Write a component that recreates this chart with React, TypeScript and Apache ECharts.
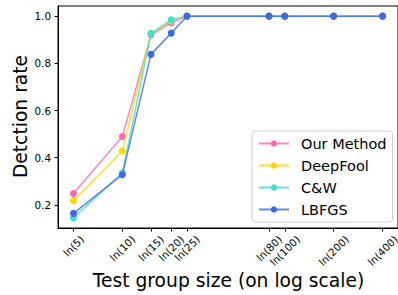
import { useEffect, useRef } from 'react';
import * as echarts from 'echarts';

const groupSizes = [5, 10, 15, 20, 25, 80, 100, 200, 400];
const xTickLabels = ['ln(5)', 'ln(10)', 'ln(15)', 'ln(20)', 'ln(25)', 'ln(80)', 'ln(100)', 'ln(200)', 'ln(400)'];
const yTicks = [0.2, 0.4, 0.6, 0.8, 1.0];

const seriesNames = ['Our Method', 'DeepFool', 'C&W', 'LBFGS'];
const ourMethod = [0.248, 0.49, 0.92, 0.972, 1.0, 1.0, 1.0, 1.0, 1.0];
const deepFool = [0.218, 0.428, 0.925, 0.98, 1.0, 1.0, 1.0, 1.0, 1.0];
const cw = [0.145, 0.336, 0.927, 0.985, 1.0, 1.0, 1.0, 1.0, 1.0];
const lbfgs = [0.164, 0.328, 0.838, 0.928, 1.0, 1.0, 1.0, 1.0, 1.0];
const colors = ['#ff69b4', '#ffd700', '#40e0d0', '#4169e1'];

const FONT = 'DejaVu Sans';
const TICK_FS = 10.4;
const X_MIN = 1.39;
const X_MAX = 6.21;
const Y_MIN = 0.102;
const Y_MAX = 1.043;

export default function App() {
  const ref = useRef<HTMLDivElement>(null);
  useEffect(() => {
    if (!ref.current) return;
    const chart = echarts.init(ref.current, null, { renderer: 'svg' });
    const allValues = [ourMethod, deepFool, cw, lbfgs];
    const option: any = {
      animation: false,
      backgroundColor: '#fff',
      grid: {
        left: 58,
        top: 6,
        width: 341.5,
        height: 222,
        show: true,
        borderColor: '#000',
        borderWidth: 1,
        backgroundColor: 'transparent',
      },
      legend: {
        orient: 'vertical',
        left: 252,
        top: 131,
        padding: [5, 6, 5, 6],
        itemWidth: 30,
        itemHeight: 8,
        itemGap: 7,
        borderColor: '#d0d0d0',
        borderWidth: 1,
        borderRadius: 3,
        backgroundColor: 'rgba(255,255,255,0.8)',
        data: seriesNames,
        textStyle: {
          fontFamily: FONT,
          fontSize: 14.5,
          color: '#000',
          padding: [0, 0, 0, 7],
        },
      },
      xAxis: {
        type: 'value',
        min: X_MIN,
        max: X_MAX,
        axisLine: { show: true, lineStyle: { color: '#000', width: 1 } },
        axisTick: {
          show: true,
          length: 3.5,
          lineStyle: { color: '#000', width: 1 },
          customValues: groupSizes.map((g) => Math.log(g)),
        },
        axisLabel: { show: false },
        splitLine: { show: false },
      },
      yAxis: {
        type: 'value',
        min: Y_MIN,
        max: Y_MAX,
        axisLine: { show: true, lineStyle: { color: '#000', width: 1 } },
        axisTick: {
          show: true,
          length: 3.5,
          lineStyle: { color: '#000', width: 1 },
          customValues: yTicks,
        },
        axisLabel: {
          show: true,
          customValues: yTicks,
          margin: 7,
          fontFamily: FONT,
          fontSize: TICK_FS,
          color: '#000',
          formatter: (v: number) => v.toFixed(1),
        },
        splitLine: { show: false },
      },
      series: seriesNames.map((name, si) => ({
        name,
        type: 'line',
        data: groupSizes.map((g, i) => [Math.log(g), allValues[si][i]]),
        symbol: 'circle',
        symbolSize: 7,
        showSymbol: true,
        itemStyle: { color: colors[si], opacity: 1 },
        lineStyle: { color: colors[si], width: 1.5, opacity: 0.8 },
        z: 2 + si,
      })),
    };
    chart.setOption(option);

    const axisY = chart.convertToPixel({ yAxisIndex: 0 }, Y_MIN) as number;
    const canvas = document.createElement('canvas');
    const ctx = canvas.getContext('2d')!;
    ctx.font = `${TICK_FS}px "${FONT}"`;
    const h = TICK_FS * 1.17;
    const tickTexts = groupSizes.map((g, i) => {
      const px = chart.convertToPixel({ xAxisIndex: 0 }, Math.log(g)) as number;
      const L = ctx.measureText(xTickLabels[i]).width;
      return {
        type: 'text',
        x: px,
        y: axisY + 5 + 0.354 * (L + h),
        rotation: Math.PI / 4,
        silent: true,
        style: {
          text: xTickLabels[i],
          fontFamily: FONT,
          fontSize: TICK_FS,
          fill: '#000',
          textAlign: 'center',
          textVerticalAlign: 'middle',
          align: 'center',
          verticalAlign: 'middle',
        },
      };
    });
    chart.setOption({
      graphic: [
        {
          type: 'text',
          x: 20,
          y: 116.5,
          rotation: Math.PI / 2,
          silent: true,
          style: {
            text: 'Detction rate',
            fontFamily: FONT,
            fontSize: 18.7,
            fill: '#000',
            textAlign: 'center',
            textVerticalAlign: 'middle',
            align: 'center',
            verticalAlign: 'middle',
          },
        },
        {
          type: 'text',
          x: 228.5,
          y: 280,
          silent: true,
          style: {
            text: 'Test group size (on log scale)',
            fontFamily: FONT,
            fontSize: 18.7,
            fill: '#000',
            textAlign: 'center',
            textVerticalAlign: 'middle',
            align: 'center',
            verticalAlign: 'middle',
          },
        },
        ...tickTexts,
      ],
    });
    return () => chart.dispose();
  }, []);
  return (
    <div
      ref={ref}
      style={{ position: 'fixed', left: 0, top: 0, width: 398, height: 295 }}
    />
  );
}
